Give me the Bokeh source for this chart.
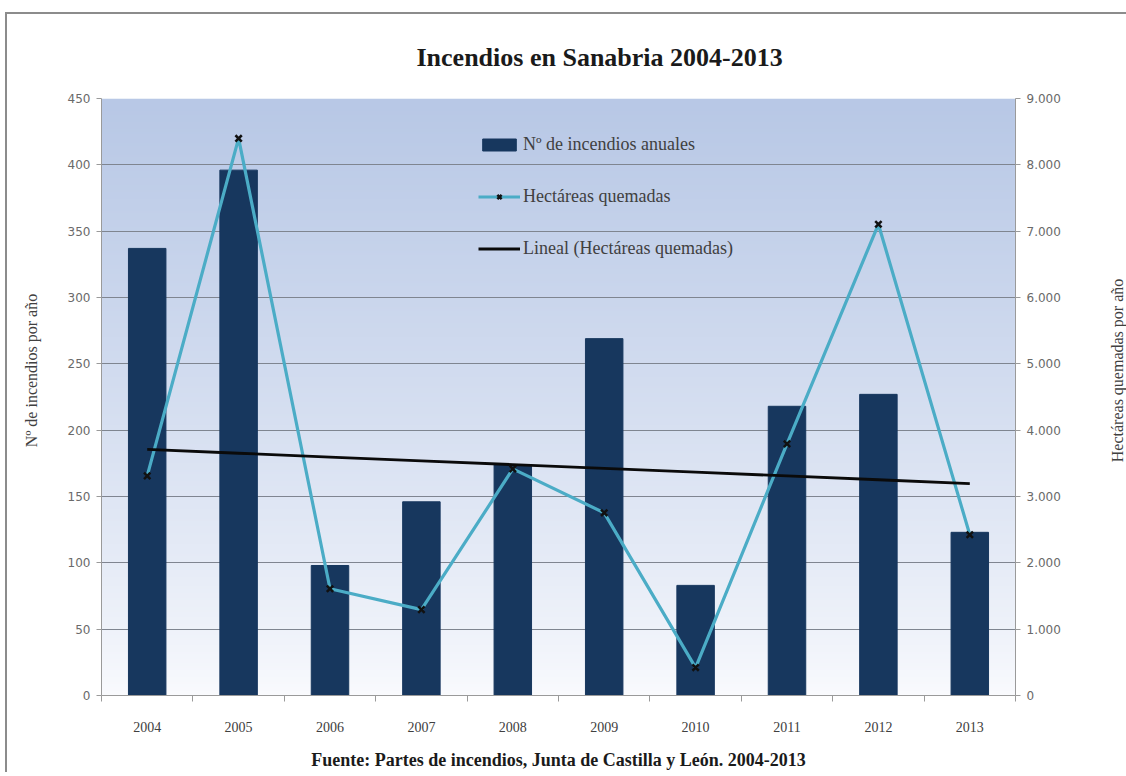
import numpy as np
from bokeh.plotting import figure
from bokeh.layouts import row
from bokeh.models import (Range1d, LinearAxis, FixedTicker, Legend, LegendItem)
from bokeh.core.properties import value
from bokeh.embed import file_html
from bokeh.resources import INLINE

# ---- data ----
years = ["2004", "2005", "2006", "2007", "2008", "2009", "2010", "2011", "2012", "2013"]
incendios = [337, 396, 98, 146, 174, 269, 83, 218, 227, 123]
hectareas = [3311, 8398, 1610, 1294, 3416, 2754, 421, 3793, 7104, 2423]
left_ticks = [0, 50, 100, 150, 200, 250, 300, 350, 400, 450]
right_ticks = [0, 1000, 2000, 3000, 4000, 5000, 6000, 7000, 8000, 9000]
right_tick_labels = ["0", "1.000", "2.000", "3.000", "4.000", "5.000", "6.000", "7.000", "8.000", "9.000"]
left_axis_title = "Nº de incendios por año"
right_axis_title = "Hectáreas quemadas por año"

x = np.arange(len(years))
coef = np.polyfit(x, hectareas, 1)
trend = np.polyval(coef, x)

SERIF = "Liberation Serif"
SANS = "DejaVu Sans"
FRAME = "2px solid #8c8c8c"

p = figure(width=1060, height=760, output_backend="svg", toolbar_location=None,
           x_range=Range1d(-0.5, len(years) - 0.5), y_range=Range1d(0, 450),
           min_border_left=54, min_border_right=92, min_border_top=83, min_border_bottom=79,
           background_fill_color="white", border_fill_color="white",
           outline_line_color=None)
p.margin = (12, 0, 0, 0)
p.styles = {"border-top": FRAME}

p.extra_y_ranges = {"ha": Range1d(0, 9000)}

# gradient background of plot area
n = 256
t = np.linspace(0, 1, n)[:, None]  # 0 bottom -> 1 top
top = np.array([184, 200, 230])
bot = np.array([250, 251, 254])
cols = (bot + (top - bot) * t ** 0.8).astype(np.uint32)
img = np.empty((n, 1), dtype=np.uint32)
view = img.view(dtype=np.uint8).reshape((n, 1, 4))
view[:, :, 0] = cols[:, 0:1]
view[:, :, 1] = cols[:, 1:2]
view[:, :, 2] = cols[:, 2:3]
view[:, :, 3] = 255
p.image_rgba(image=[img], x=-0.5, y=0, dw=len(years), dh=450, level="image")

# bars
bars = p.vbar(x=x, top=incendios, width=0.41, fill_color="#17375e", line_color="#17375e")
# line + markers
ln = p.line(x, hectareas, y_range_name="ha", line_color="#4bacc6", line_width=3.2)
mk = p.scatter(x, hectareas, y_range_name="ha", marker="x", size=9, line_color="#111111", line_width=2.5)
# trend
tr = p.line(x, trend, y_range_name="ha", line_color="#0a0a0a", line_width=2.8)

# x axis (the source note is drawn as its label)
p.xaxis.ticker = FixedTicker(ticks=list(x), minor_ticks=list(np.arange(-0.5, len(years), 1.0)))
p.xaxis.major_label_overrides = {int(i): years[i] for i in range(len(years))}
p.xaxis.major_tick_line_color = None
p.xaxis.minor_tick_line_color = "#9a9a9a"
p.xaxis.minor_tick_in = 0
p.xaxis.minor_tick_out = 6
p.xaxis.axis_line_color = "#9a9a9a"
p.xaxis.major_label_text_font = SERIF
p.xaxis.major_label_text_font_size = "14px"
p.xaxis.major_label_text_color = "#404040"
p.xaxis.major_label_standoff = 20
p.xaxis.axis_label = "Fuente: Partes de incendios, Junta de Castilla y León. 2004-2013"
p.xaxis.axis_label_text_font = SERIF
p.xaxis.axis_label_text_font_style = "bold"
p.xaxis.axis_label_text_font_size = "18px"
p.xaxis.axis_label_text_color = "#1a1a1a"
p.xaxis.axis_label_standoff = 15

p.yaxis.ticker = FixedTicker(ticks=left_ticks)
p.yaxis.major_label_text_font = SANS
p.yaxis.major_label_text_font_size = "12px"
p.yaxis.major_label_text_color = "#6a6a6a"
p.yaxis.major_tick_in = 0
p.yaxis.major_tick_out = 5
p.yaxis.minor_tick_line_color = None
p.yaxis.axis_line_color = "#9a9a9a"
p.yaxis.major_tick_line_color = "#9a9a9a"
p.yaxis.major_label_standoff = 6

ra = LinearAxis(y_range_name="ha", ticker=FixedTicker(ticks=right_ticks))
ra.major_label_overrides = {v: s for v, s in zip(right_ticks, right_tick_labels)}
ra.major_label_text_font = SANS
ra.major_label_text_font_size = "12px"
ra.major_label_text_color = "#6a6a6a"
ra.major_tick_in = 0
ra.major_tick_out = 5
ra.minor_tick_line_color = None
ra.axis_line_color = "#9a9a9a"
ra.major_tick_line_color = "#9a9a9a"
ra.major_label_standoff = 6
p.add_layout(ra, "right")

p.xgrid.grid_line_color = None
p.ygrid.grid_line_color = "#7f8590"
p.ygrid.grid_line_width = 1
p.ygrid.ticker = FixedTicker(ticks=left_ticks)

# title
p.title.text = "Incendios en Sanabria 2004-2013"
p.title.text_font = SERIF
p.title.text_font_style = "bold"
p.title.text_font_size = "26px"
p.title.text_color = "#1a1a1a"
p.title.align = "left"
p.title.offset = 315
p.title.standoff = 53

legend = Legend(items=[
    LegendItem(label="Nº de incendios anuales", renderers=[bars]),
    LegendItem(label="Hectáreas quemadas", renderers=[ln, mk]),
    LegendItem(label="Lineal (Hectáreas quemadas)", renderers=[tr]),
], location=(377, 436), padding=0, margin=0, spacing=31,
    glyph_width=42, glyph_height=15, label_height=20, label_standoff=3,
    label_text_font=SERIF, label_text_font_size="18px", label_text_color="#404040",
    background_fill_alpha=0, border_line_color=None)
p.add_layout(legend, "center")


def side_panel(width, margin, styles, label, xpos):
    """Narrow companion panel holding a vertical axis title (reads bottom-to-top)."""
    s = figure(width=width, height=760, output_backend="svg", toolbar_location=None,
               x_range=Range1d(0, 1), y_range=p.y_range,
               min_border_left=0, min_border_right=0, min_border_top=83, min_border_bottom=79,
               background_fill_color="white", border_fill_color="white", outline_line_color=None)
    s.margin = margin
    s.styles = styles
    s.axis.visible = False
    s.grid.visible = False
    s.text(x=[xpos], y=[245], text=[label], angle=float(np.pi / 2),
           text_font=value(SERIF), text_font_size="16px", text_color="#404040",
           text_align="center", text_baseline="middle")
    return s


ql = side_panel(42, (12, 0, 0, 5), {"border-left": FRAME, "border-top": FRAME}, left_axis_title, 0.56)
qr = side_panel(19, (12, 0, 0, 0), {"border-top": FRAME}, right_axis_title, 0.5)

layout = row(ql, p, qr, spacing=0)
open("out.html", "w").write(file_html(layout, INLINE))
